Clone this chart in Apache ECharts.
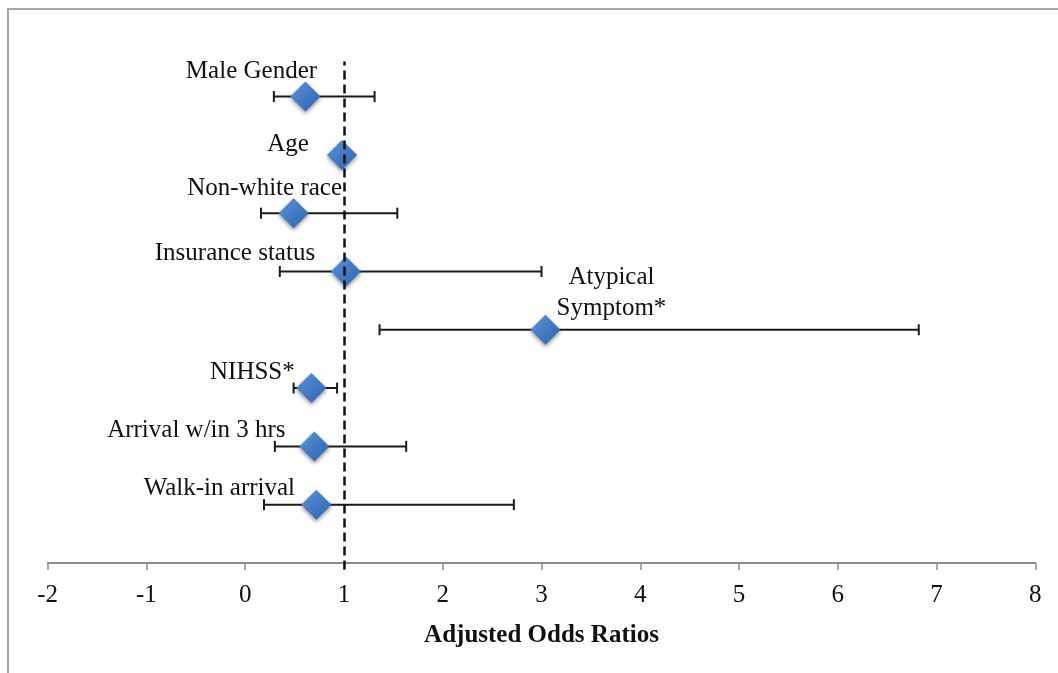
<!DOCTYPE html>
<html>
<head>
<meta charset="utf-8">
<script src="https://cdn.jsdelivr.net/npm/echarts@6/dist/echarts.min.js"></script>
<style>
html,body{margin:0;padding:0;background:#fff;}
#chart{width:1058px;height:673px;}
</style>
</head>
<body>
<div id="chart"></div>
<script>
// Data
var categories = ['Male Gender','Age','Non-white race','Insurance status','Atypical\nSymptom*','NIHSS*','Arrival w/in 3 hrs','Walk-in arrival'];
var rowPos     = [8, 7, 6, 5, 4, 3, 2, 1];
var oddsRatio  = [0.61, 0.98, 0.49, 1.02, 3.04, 0.67, 0.70, 0.72];
var ciLow      = [0.29, 0.97, 0.16, 0.35, 1.36, 0.49, 0.30, 0.19];
var ciHigh     = [1.31, 1.00, 1.54, 3.00, 6.82, 0.93, 1.63, 2.72];
var xTicks     = [-2, -1, 0, 1, 2, 3, 4, 5, 6, 7, 8];
var nullValue  = 1;

var chart = echarts.init(document.getElementById('chart'));

// label placement (style), in pixels relative to the marker centre
var labelShift = [[-54,-25],[-54,-10],[-29,-25],[-111,-18],[66,-37],[-59,-16],[-118,-16],[-97,-16]];

var FONT = 'Liberation Serif';

var pointData = categories.map(function(c, i){
  return {
    name: c,
    value: [oddsRatio[i], rowPos[i]],
    label: { offset: labelShift[i] }
  };
});
var errData = categories.map(function(c, i){ return [rowPos[i], ciLow[i], ciHigh[i]]; });

var option = {
  animation: false,
  backgroundColor: '#ffffff',
  graphic: [{
    type: 'rect',
    shape: { x: 8, y: 9, width: 1200, height: 800 },
    style: { fill: 'none', stroke: '#a6a6a6', lineWidth: 2 },
    silent: true, z: 0
  }],
  grid: { left: 47.7, right: 22.7, top: 61.6, bottom: 103.6 },
  xAxis: {
    type: 'value',
    min: xTicks[0], max: xTicks[xTicks.length-1], interval: 1,
    axisLine: { onZero: true, lineStyle: { color: '#8c8c8c', width: 2 } },
    axisTick: { show: true, length: 7, lineStyle: { color: '#8c8c8c', width: 1.5 } },
    axisLabel: { fontFamily: FONT, fontSize: 25, color: '#111', margin: 14 },
    splitLine: { show: false },
    name: 'Adjusted Odds Ratios',
    nameLocation: 'middle',
    nameGap: 54,
    nameTextStyle: { fontFamily: FONT, fontSize: 25, fontWeight: 'bold', color: '#111' }
  },
  yAxis: {
    type: 'value', min: -0.11, max: 8.6,
    axisLine: { show: false }, axisTick: { show: false },
    axisLabel: { show: false }, splitLine: { show: false }
  },
  series: [
    {
      type: 'custom',
      z: 2,
      data: errData,
      renderItem: function(params, api){
        var y = api.value(0), lo = api.value(1), hi = api.value(2);
        var p1 = api.coord([lo, y]), p2 = api.coord([hi, y]);
        var cap = 5.5;
        var st = { stroke: '#1a1a1a', lineWidth: 2 };
        return { type: 'group', children: [
          { type: 'line', shape: { x1: p1[0], y1: p1[1], x2: p2[0], y2: p2[1] }, style: st },
          { type: 'line', shape: { x1: p1[0], y1: p1[1]-cap, x2: p1[0], y2: p1[1]+cap }, style: st },
          { type: 'line', shape: { x1: p2[0], y1: p2[1]-cap, x2: p2[0], y2: p2[1]+cap }, style: st }
        ]};
      }
    },
    {
      type: 'scatter',
      z: 3,
      symbol: 'diamond',
      symbolSize: [30, 30],
      data: pointData,
      itemStyle: {
        opacity: 1,
        color: new echarts.graphic.LinearGradient(0, 0, 1, 1, [
          { offset: 0, color: '#5a95de' },
          { offset: 1, color: '#2b62ab' }
        ]),
        shadowBlur: 4, shadowColor: 'rgba(0,0,0,0.45)', shadowOffsetY: 2
      },
      label: {
        show: true,
        position: 'inside',
        formatter: '{b}',
        fontFamily: FONT, fontSize: 25, color: '#111',
        textBorderWidth: 0, textBorderColor: 'transparent',
        textShadowBlur: 0, textShadowColor: 'transparent',
        lineHeight: 31, align: 'center', verticalAlign: 'middle'
      },
      markLine: {
        silent: true,
        symbol: ['none','none'],
        label: { show: false },
        z: 4,
        lineStyle: { color: '#111', width: 2.5, type: [9, 5] },
        data: [{ xAxis: nullValue }]
      }
    }
  ]
};
chart.setOption(option);
</script>
</body>
</html>
